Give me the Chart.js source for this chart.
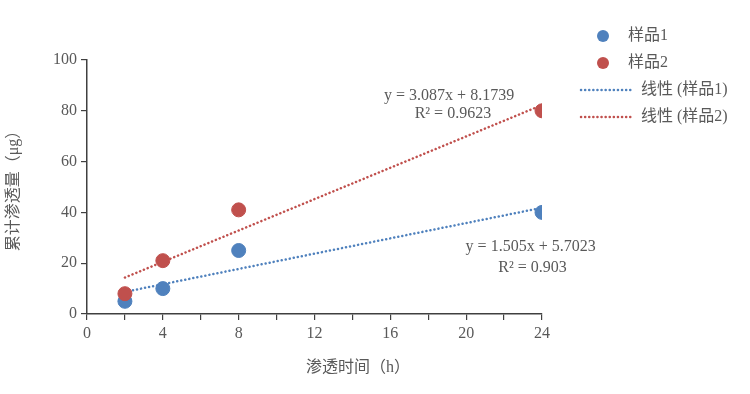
<!DOCTYPE html>
<html>
<head>
<meta charset="utf-8">
<script src="https://cdn.jsdelivr.net/npm/chart.js@4/dist/chart.umd.min.js"></script>
<style>
  html, body { margin: 0; padding: 0; background: #fff; }
  #wrap { width: 750px; height: 394px; }
</style>
</head>
<body>
<div id="wrap"><canvas id="permeation" width="750" height="394"></canvas></div>
<script>
// 数据
const hours = [2, 4, 8, 24];
const sample1 = [5, 10, 25, 40];
const sample2 = [8, 21, 41, 80];
const fit1 = { slope: 1.505, intercept: 5.7023, label: 'y = 1.505x + 5.7023', r2: 'R² = 0.903' };
const fit2 = { slope: 3.087, intercept: 8.1739, label: 'y = 3.087x + 8.1739', r2: 'R² = 0.9623' };
const xTicks = [0, 4, 8, 12, 16, 20, 24];
const yTicks = [0, 20, 40, 60, 80, 100];
const seriesNames = ['样品1', '样品2', '线性 (样品1)', '线性 (样品2)'];
const xTitle = '渗透时间（h）';
const yTitle = '累计渗透量（μg）';

const BLUE = '#4F81BD';
const RED = '#C0504D';
const TEXT = '#595959';
const FONT = '"Liberation Serif", "Noto Sans CJK SC", serif';

const trend = (fit) => [hours[0], hours[hours.length - 1]].map(x => ({ x: x, y: fit.slope * x + fit.intercept }));
const pts = (ys) => hours.map((x, i) => ({ x: x, y: ys[i] }));

// 公式标注 + 图例 + x轴标题
const extras = {
  id: 'extras',
  afterDraw(chart) {
    const c = chart.ctx;
    const xs = chart.scales.x, ys = chart.scales.y;
    c.save();
    c.fillStyle = TEXT;
    c.font = '16px ' + FONT;
    c.textAlign = 'center';
    c.textBaseline = 'middle';
    // 样品2 公式
    c.fillText(fit2.label, xs.getPixelForValue(19.1), ys.getPixelForValue(85.8));
    c.fillText(fit2.r2, xs.getPixelForValue(19.3), ys.getPixelForValue(78.7));
    // 样品1 公式
    c.fillText(fit1.label, xs.getPixelForValue(23.4), ys.getPixelForValue(26.3));
    c.fillText(fit1.r2, xs.getPixelForValue(23.5), ys.getPixelForValue(18.1));

    // x轴标题（原图偏右）
    c.fillText(xTitle, xs.getPixelForValue(14.3), xs.top + 54);

    // 图例
    c.textAlign = 'left';
    const colors = [BLUE, RED, BLUE, RED];
    const rows = [36, 63, 90, 117];
    rows.forEach((y, i) => {
      if (i < 2) {
        c.beginPath();
        c.fillStyle = colors[i];
        c.arc(603, y, 6, 0, Math.PI * 2);
        c.fill();
        c.fillStyle = TEXT;
        c.fillText(seriesNames[i], 628, y);
      } else {
        c.beginPath();
        c.strokeStyle = colors[i];
        c.lineWidth = 2.5;
        c.lineCap = 'round';
        c.setLineDash([0.1, 4]);
        c.moveTo(581, y);
        c.lineTo(632, y);
        c.stroke();
        c.setLineDash([]);
        c.fillStyle = TEXT;
        c.fillText(seriesNames[i], 641, y);
      }
    });
    c.restore();
  }
};

new Chart(document.getElementById('permeation'), {
  type: 'scatter',
  data: {
    datasets: [
      { label: seriesNames[1], data: pts(sample2), backgroundColor: RED, borderColor: RED, pointRadius: 7, pointHoverRadius: 7, order: 0 },
      { label: seriesNames[0], data: pts(sample1), backgroundColor: BLUE, borderColor: BLUE, pointRadius: 7, pointHoverRadius: 7, order: 1 },
      { label: seriesNames[3], data: trend(fit2), type: 'line', showLine: true, borderColor: RED, borderWidth: 2.5, borderDash: [0.1, 4], borderCapStyle: 'round', pointRadius: 0, fill: false, order: 2 },
      { label: seriesNames[2], data: trend(fit1), type: 'line', showLine: true, borderColor: BLUE, borderWidth: 2.5, borderDash: [0.1, 4], borderCapStyle: 'round', pointRadius: 0, fill: false, order: 3 }
    ]
  },
  options: {
    responsive: false,
    animation: false,
    layout: { padding: { top: 60, right: 208, left: 0, bottom: 0 } },
    plugins: { legend: { display: false }, tooltip: { enabled: false } },
    scales: {
      x: {
        type: 'linear',
        min: 0, max: 24,
        afterBuildTicks: (s) => { s.ticks = [0, 2, 4, 6, 8, 10, 12, 14, 16, 18, 20, 22, 24].map(v => ({ value: v })); },
        afterFit: (s) => { s.height = 80; },
        ticks: {
          color: TEXT, font: { family: FONT, size: 16 }, padding: 4, maxRotation: 0, autoSkip: false,
          callback: (v) => xTicks.includes(v) ? String(v) : ''
        },
        grid: { drawOnChartArea: false, drawTicks: true, tickLength: 6, color: '#404040', lineWidth: 1.2 },
        border: { color: '#404040', width: 1.5 },
        title: { display: false }
      },
      y: {
        min: 0, max: 100,
        afterBuildTicks: (s) => { s.ticks = yTicks.map(v => ({ value: v })); },
        afterFit: (s) => { s.width = 87; },
        ticks: { color: TEXT, font: { family: FONT, size: 16 }, padding: 4 },
        grid: { drawOnChartArea: false, drawTicks: true, tickLength: 6, color: '#404040', lineWidth: 1.2 },
        border: { color: '#404040', width: 1.5 },
        title: { display: true, text: yTitle, color: TEXT, font: { family: FONT, size: 16 }, padding: { top: 4, bottom: 0 } }
      }
    }
  },
  plugins: [extras]
});
</script>
</body>
</html>
